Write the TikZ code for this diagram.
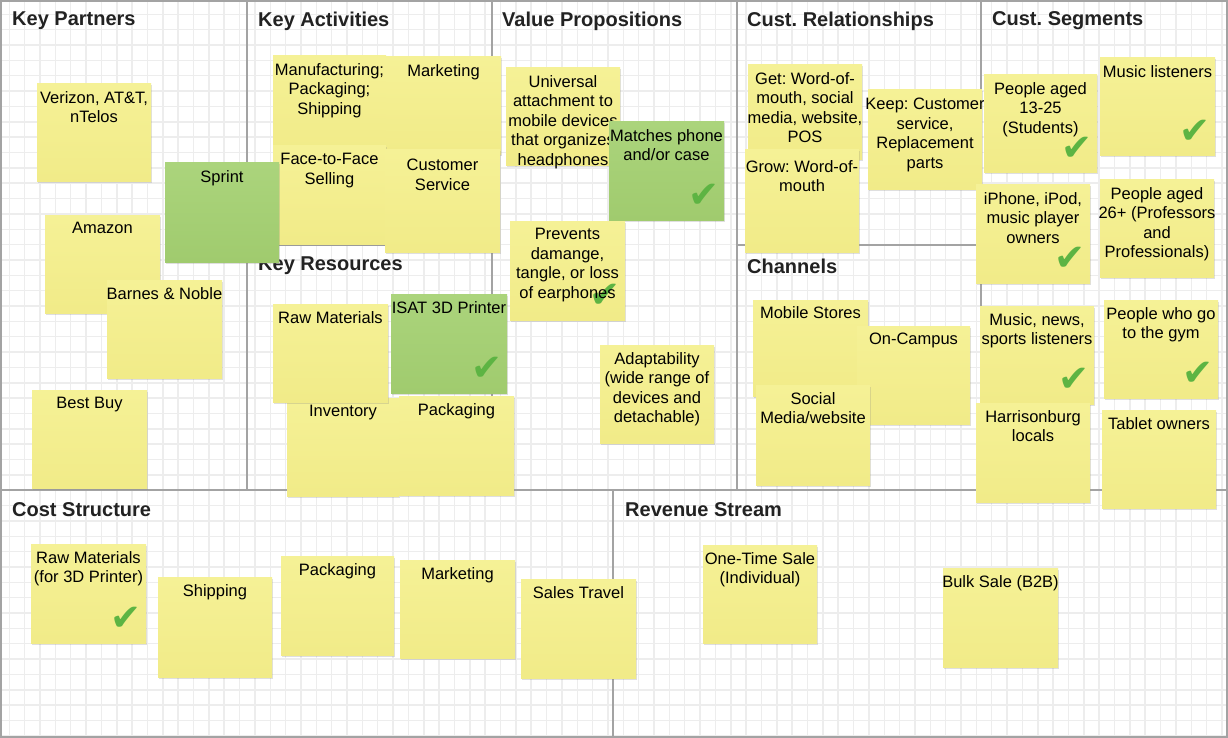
\documentclass[tikz,border=0pt]{standalone}
\usepackage{fontspec}
\setmainfont{Liberation Sans}
\newfontfamily\symfont{DejaVu Sans}
\usepackage{xcolor}
\usepackage{tikz}
\usetikzlibrary{shadows}
\frenchspacing

\definecolor{gridgray}{HTML}{EDEDED}
\definecolor{linegray}{HTML}{A3A3A3}
\definecolor{headgray}{HTML}{222222}
\definecolor{yellowtop}{HTML}{F5F196}
\definecolor{yellowbot}{HTML}{F1EB88}
\definecolor{greentop}{HTML}{ABD47C}
\definecolor{greenbot}{HTML}{A0CB6E}
\definecolor{tickgreen}{HTML}{5DB443}

\begin{document}
\begin{tikzpicture}[x=1pt, y=-1pt,
    gridline/.style={draw=gridgray, line width=1.5pt},
    divider/.style={draw=linegray, line width=1.5pt},
    header/.style={anchor=west, inner sep=0pt, text=headgray, font=\fontsize{20}{24}\selectfont\bfseries},
    note/.style={anchor=north west, minimum width=114pt, minimum height=98pt, inner sep=0pt, outer sep=0pt,
        top color=yellowtop, bottom color=yellowbot,
        drop shadow={shadow xshift=1.2pt, shadow yshift=-1.5pt, opacity=0.25}},
    greennote/.style={note, top color=greentop, bottom color=greenbot},
    notetext/.style={anchor=north, align=center, inner sep=0pt, yshift=-7pt, font=\fontsize{16.5}{19.5}\selectfont},
    tickmark/.style={anchor=center, inner sep=0pt, xshift=-20pt, yshift=24pt, text=tickgreen, font=\fontsize{37}{37}\selectfont\symfont},
    tick/.style={label={[tickmark]south east:✔}}]

    \useasboundingbox (0,0) rectangle (1228,738);
    \fill[white] (0,0) rectangle (1228,738);

    % grid paper
    \foreach \i in {0,...,79}
        \draw[gridline] ({9.3+15.35*\i},0) -- ({9.3+15.35*\i},738);
    \foreach \j in {0,...,48}
        \draw[gridline] (0,{15.35*\j-1}) -- (1228,{15.35*\j-1});

    % canvas blocks
    \draw[divider] (247,0) -- (247,490);
    \draw[divider] (492,0) -- (492,490);
    \draw[divider] (737,0) -- (737,490);
    \draw[divider] (981,0) -- (981,490);
    \draw[divider] (247,245) -- (492,245);
    \draw[divider] (737,245) -- (981,245);
    \draw[divider] (0,490) -- (1228,490);
    \draw[divider] (613,490) -- (613,738);
    \draw[draw=linegray, line width=2.2pt] (1,1) rectangle (1227,737);

    \node[header] (partners) at (12,21) {Key Partners};
    \node[header] (activities) at (258,21) {Key Activities};
    \node[header] (values) at (502,21) {Value Propositions};
    \node[header] (relations) at (747,21) {Cust. Relationships};
    \node[header] (segments) at (992,21) {Cust. Segments};
    \node[header] (resources) at (258,266) {Key Resources};
    \node[header] (channels) at (747,266) {Channels};
    \node[header] (costs) at (12,510) {Cost Structure};
    \node[header] (revenue) at (625,510) {Revenue Stream};

    % key partners
    \node[note, label={[notetext]north:{Verizon, AT\&T,\\ nTelos}}] (verizon) at (37,84) {};
    \node[note, minimum width=115pt, label={[notetext]north:{Amazon}}] (amazon) at (45,215) {};
    \node[note, minimum width=115pt, label={[notetext]north:{Barnes \& Noble}}] (barnes) at (107,280) {};
    \node[note, minimum width=115pt, label={[notetext]north:{Best Buy}}] (bestbuy) at (32,390) {};

    % key activities
    \node[note, minimum width=113pt, label={[notetext]north:{Manufacturing;\\ Packaging;\\ Shipping}}] (making) at (273,56) {};
    \node[note, minimum width=115pt, label={[notetext]north:{Marketing}}] (marketing) at (386,57) {};
    \node[note, minimum width=113pt, label={[notetext]north:{Face-to-Face\\ Selling}}] (selling) at (273,146) {};
    \node[note, minimum width=115pt, minimum height=102pt, label={[notetext, yshift=-2pt]north:{Customer\\ Service}}] (service) at (385,150) {};
    \node[greennote, minimum height=99pt, label={[notetext]north:{Sprint}}] (sprint) at (165,163) {};

    % key resources
    \node[note, minimum width=112pt, label={[notetext]north:{Inventory}}] (inventory) at (287,398) {};
    \node[note, minimum width=115pt, label={[notetext]north:{Raw Materials}}] (rawmat) at (273,304) {};
    \node[note, minimum width=115pt, minimum height=99pt, label={[notetext]north:{Packaging}}] (packing) at (399,396) {};
    \node[greennote, minimum width=116pt, minimum height=99pt, tick, label={[notetext]north:{ISAT 3D Printer}}] (printer) at (391,294) {};

    % value propositions
    \node[note, label={[notetext]north:{Universal\\ attachment to\\ mobile devices\\ that organizes\\ headphones}}] (universal) at (506,68) {};
    \node[greennote, minimum width=115pt, tick, label={[notetext]north:{Matches phone\\ and/or case}}] (matches) at (609,122) {};
    \node[note, minimum width=115pt, minimum height=99pt, tick, label={[notetext]north:{Prevents\\ damange,\\ tangle, or loss\\ of earphones}}] (prevents) at (510,221) {};
    \node[note, label={[notetext]north:{Adaptability\\ (wide range of\\ devices and\\ detachable)}}] (adapt) at (600,345) {};

    % customer relationships
    \node[note, minimum height=95pt, label={[notetext]north:{Get: Word-of-\\ mouth, social\\ media, website,\\ POS}}] (getting) at (748,65) {};
    \node[note, minimum height=102pt, label={[notetext, yshift=-3pt]north:{Grow: Word-of-\\ mouth}}] (growing) at (745,150) {};
    \node[note, minimum height=100pt, label={[notetext, yshift=-1pt]north:{Keep: Customer\\ service,\\ Replacement\\ parts}}] (keeping) at (868,90) {};

    % channels
    \node[note, minimum width=115pt, minimum height=96pt, label={[notetext, yshift=1pt]north:{Mobile Stores}}] (stores) at (753,300) {};
    \node[note, minimum width=113pt, label={[notetext]north:{On-Campus}}] (campus) at (857,326) {};
    \node[note, minimum height=100pt, label={[notetext]north:{Social\\ Media/website}}] (social) at (756,385) {};

    % customer segments
    \node[note, minimum width=113pt, tick, label={[notetext]north:{People aged\\ 13-25\\ (Students)}}] (students) at (984,75) {};
    \node[note, minimum width=115pt, tick, label={[notetext]north:{Music listeners}}] (listeners) at (1100,58) {};
    \node[note, tick, label={[notetext]north:{iPhone, iPod,\\ music player\\ owners}}] (owners) at (976,185) {};
    \node[note, minimum height=97pt, label={[notetext]north:{People aged\\ 26+ (Professors\\ and\\ Professionals)}}] (profs) at (1100,180) {};
    \node[note, tick, label={[notetext]north:{Music, news,\\ sports listeners}}] (news) at (980,306) {};
    \node[note, tick, label={[notetext]north:{People who go\\ to the gym}}] (gym) at (1104,300) {};
    \node[note, minimum height=99pt, label={[notetext]north:{Harrisonburg\\ locals}}] (locals) at (976,403) {};
    \node[note, label={[notetext]north:{Tablet owners}}] (tablets) at (1102,410) {};

    % cost structure
    \node[note, minimum width=115pt, minimum height=99pt, tick, label={[notetext]north:{Raw Materials\\ (for 3D Printer)}}] (rawcost) at (31,544) {};
    \node[note, minimum height=100pt, label={[notetext]north:{Shipping}}] (shipcost) at (158,577) {};
    \node[note, minimum width=113pt, minimum height=99pt, label={[notetext]north:{Packaging}}] (packcost) at (281,556) {};
    \node[note, minimum width=115pt, label={[notetext]north:{Marketing}}] (mktcost) at (400,560) {};
    \node[note, minimum width=115pt, minimum height=99pt, label={[notetext]north:{Sales Travel}}] (travel) at (521,579) {};

    % revenue stream
    \node[note, label={[notetext]north:{One-Time Sale\\ (Individual)}}] (onetime) at (703,545) {};
    \node[note, minimum width=115pt, minimum height=99pt, label={[notetext]north:{Bulk Sale (B2B)}}] (bulk) at (943,568) {};
\end{tikzpicture}
\end{document}
